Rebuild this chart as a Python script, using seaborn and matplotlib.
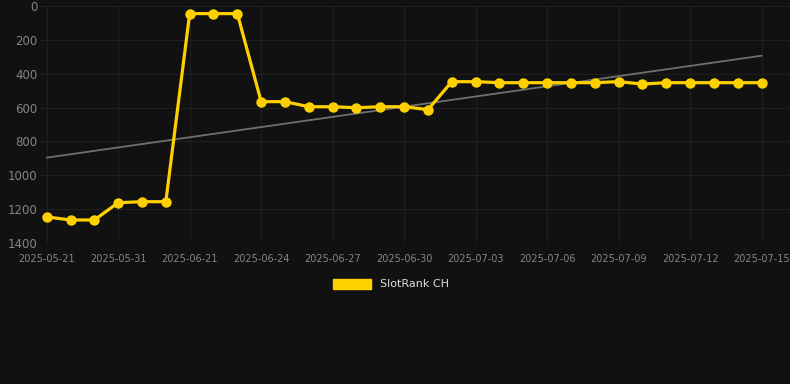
import numpy as np
import pandas as pd
import seaborn as sns
import matplotlib.pyplot as plt
from matplotlib.patches import Patch

# dates for each point (labels shown every third point)
dates = ["2025-05-21", "2025-05-24", "2025-05-28", "2025-05-31", "2025-06-04", "2025-06-08",
         "2025-06-21", "2025-06-22", "2025-06-23", "2025-06-24", "2025-06-25", "2025-06-26",
         "2025-06-27", "2025-06-28", "2025-06-29", "2025-06-30", "2025-07-01", "2025-07-02",
         "2025-07-03", "2025-07-04", "2025-07-05", "2025-07-06", "2025-07-07", "2025-07-08",
         "2025-07-09", "2025-07-10", "2025-07-11", "2025-07-12", "2025-07-13", "2025-07-14",
         "2025-07-15"]
rank = [1246, 1264, 1264, 1162, 1156, 1156,
        45, 45, 45, 565, 565, 595,
        595, 601, 595, 595, 612, 447,
        447, 453, 453, 453, 453, 453,
        447, 461, 453, 453, 453, 453,
        453]
y_ticks = [0, 200, 400, 600, 800, 1000, 1200, 1400]

bg = "#111111"
grid = "#1f1f1f"
gold = "#FFD000"

sns.set_style("dark", {"axes.facecolor": bg, "figure.facecolor": bg,
                       "grid.color": grid, "axes.grid": True})
plt.rcParams['font.family'] = ['DejaVu Sans']

df = pd.DataFrame({"idx": np.arange(len(rank)), "date": dates, "rank": rank})

# linear trend over the whole series
slope, icpt = np.polyfit(df["idx"], df["rank"], 1)
df["trend"] = icpt + slope * df["idx"]

fig = plt.figure(figsize=(7.9, 3.84), dpi=100)
ax = fig.add_axes([40 / 790, 1 - 243 / 384, 750 / 790, 237 / 384])

sns.lineplot(data=df, x="idx", y="trend", ax=ax, color="#707070", linewidth=1.3)
sns.lineplot(data=df, x="idx", y="rank", ax=ax, color=gold, linewidth=2.3,
             marker="o", markersize=7.5, markeredgewidth=0, markerfacecolor=gold)

ax.set_ylim(1400, 0)
ax.set_yticks(y_ticks)
ax.set_xlim(-0.28, 31.19)
shown = df["idx"][::3]
ax.set_xticks(shown)
ax.set_xticklabels(df["date"][::3])
ax.set_xlabel("")
ax.set_ylabel("")
ax.grid(True, color=grid, linewidth=0.8)
for s in ax.spines.values():
    s.set_visible(False)
ax.tick_params(axis="x", colors="#858585", labelsize=7, length=5, color=grid, pad=3)
ax.tick_params(axis="y", colors="#858585", labelsize=8.5, length=0, pad=2)

fig.legend(handles=[Patch(facecolor=gold, edgecolor=gold)], labels=["SlotRank CH"],
           loc="center", bbox_to_anchor=(0.495, 1 - 284 / 384), frameon=False,
           handlelength=3.4, handleheight=1.0, fontsize=8, labelcolor="#dddddd")

plt.savefig("out.png", dpi=100, facecolor=bg)
